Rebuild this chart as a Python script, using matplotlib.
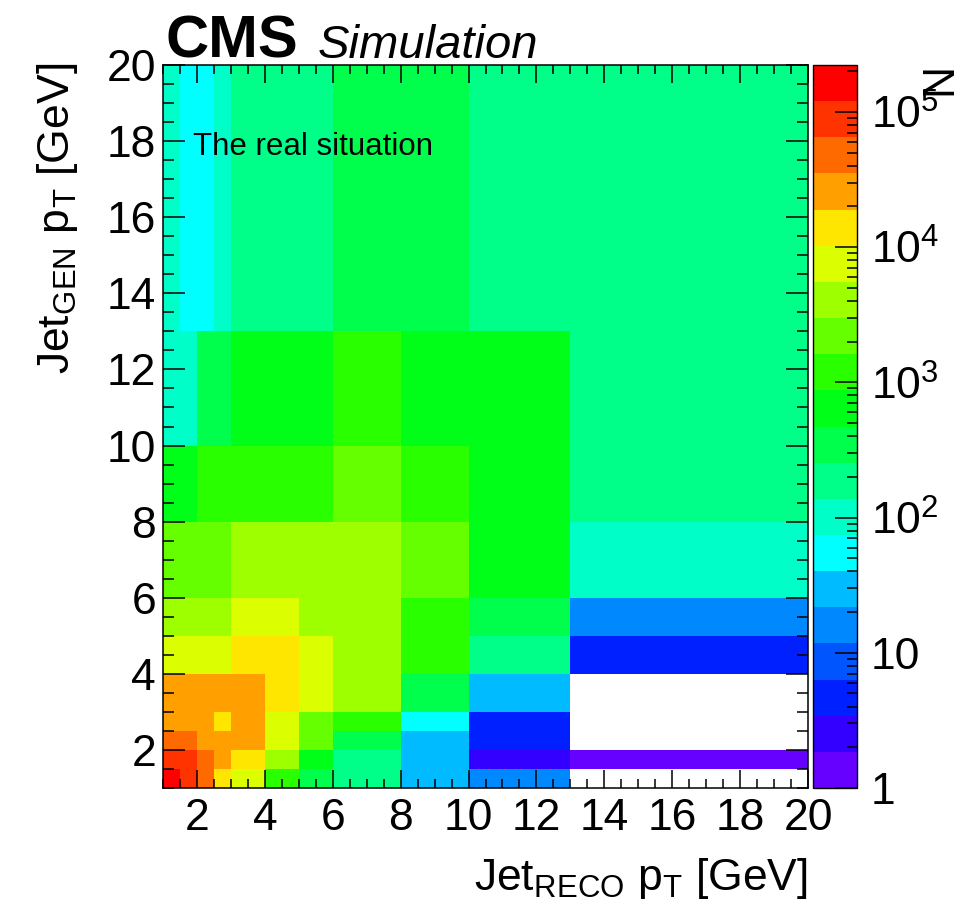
import numpy as np
import matplotlib
matplotlib.use("Agg")
import matplotlib.pyplot as plt
from matplotlib.colors import ListedColormap, LogNorm
from matplotlib.ticker import FixedLocator, MultipleLocator, LogLocator, NullFormatter

plt.rcParams['font.family'] = ['Liberation Sans', 'DejaVu Sans']
plt.rcParams['mathtext.fontset'] = 'custom'
plt.rcParams['mathtext.rm'] = 'Liberation Sans'
plt.rcParams['mathtext.it'] = 'Liberation Sans:italic'
plt.rcParams['mathtext.bf'] = 'Liberation Sans:bold'

# Variable bin edges of the response matrix [GeV]
reco_edges = [1, 1.5, 2, 2.5, 3, 4, 5, 6, 8, 10, 13, 20]
gen_edges = [1, 1.5, 2, 2.5, 3, 4, 5, 6, 8, 10, 13, 20]

# Entries per bin, one list per generator-level row (bottom to top),
# columns follow reco_edges; 0 marks an empty bin
gen_1_15 = [150000, 85000, 45000, 14000, 8000, 1200, 350, 190, 30, 15, 0]
gen_15_2 = [90000, 80000, 48000, 26000, 15000, 4200, 650, 200, 28, 2.5, 1]
gen_2_25 = [50000, 42000, 30000, 27000, 25000, 7000, 2300, 380, 32, 5, 0]
gen_25_3 = [28000, 30000, 26000, 15000, 24000, 7500, 2200, 1100, 55, 4, 0]
gen_3_4 = [24000, 26000, 27000, 25000, 22000, 13000, 8500, 4000, 400, 30, 0]
gen_4_5 = [9000, 8500, 8000, 7800, 12000, 11000, 7000, 3800, 1100, 180, 5]
gen_5_6 = [4500, 4200, 4000, 3900, 6500, 6000, 3600, 3300, 1000, 330, 16]
gen_6_8 = [2500, 2300, 2200, 2100, 3500, 3400, 3200, 3100, 1900, 600, 100]
gen_8_10 = [800, 780, 950, 920, 1300, 1200, 1100, 1800, 1000, 650, 200]
gen_10_13 = [120, 110, 400, 380, 700, 680, 650, 950, 600, 550, 170]
gen_13_20 = [90, 60, 55, 85, 200, 210, 220, 300, 280, 180, 160]

counts = np.array([gen_1_15, gen_15_2, gen_2_25, gen_25_3, gen_3_4, gen_4_5,
                   gen_5_6, gen_6_8, gen_8_10, gen_10_13, gen_13_20], dtype=float)

x_ticks = [2, 4, 6, 8, 10, 12, 14, 16, 18, 20]
y_ticks = [2, 4, 6, 8, 10, 12, 14, 16, 18, 20]
z_ticks = [1, 10, 100, 1e3, 1e4, 1e5]
z_labels = ['1', '10', r'$\mathregular{10^{2}}$', r'$\mathregular{10^{3}}$',
            r'$\mathregular{10^{4}}$', r'$\mathregular{10^{5}}$']
z_min, z_max = 1.0, 2.22e5

# 20-step rainbow palette, violet (low) to red (high)
palette = ['#6600ff', '#3300ff', '#0020ff', '#0055ff', '#0088ff', '#00bbff',
           '#00ffff', '#00ffc8', '#00ff88', '#00ff4c', '#00ff18', '#2aff00',
           '#66ff00', '#9eff00', '#dbff00', '#ffe600', '#ffa000', '#ff6a00',
           '#ff3300', '#ff0000']
cmap = ListedColormap(palette)
cmap.set_bad('white')
norm = LogNorm(vmin=z_min, vmax=z_max)

W, H = 971, 915
fig = plt.figure(figsize=(W / 100, H / 100), dpi=100)
fig.patch.set_facecolor('white')

ax_l, ax_r, ax_t, ax_b = 163, 808, 65, 788
ax = fig.add_axes([ax_l / W, 1 - ax_b / H, (ax_r - ax_l) / W, (ax_b - ax_t) / H])
mesh = ax.pcolormesh(reco_edges, gen_edges, np.ma.masked_less_equal(counts, 0),
                     cmap=cmap, norm=norm, edgecolors='none', antialiased=False)
ax.set_xlim(1, 20)
ax.set_ylim(1, 20)
ax.xaxis.set_major_locator(FixedLocator(x_ticks))
ax.yaxis.set_major_locator(FixedLocator(y_ticks))
ax.xaxis.set_minor_locator(MultipleLocator(0.5))
ax.yaxis.set_minor_locator(MultipleLocator(0.5))
ax.tick_params(which='both', direction='in', top=True, right=True,
               width=1.1, color='black', labelsize=32)
ax.tick_params(axis='x', which='major', length=13, pad=7)
ax.tick_params(axis='x', which='minor', length=6.5)
ax.tick_params(axis='y', which='major', length=16, pad=5)
ax.tick_params(axis='y', which='minor', length=8)
for s in ax.spines.values():
    s.set_linewidth(1.1)

ax.text((193 - ax_l) / (ax_r - ax_l), (ax_b - 147) / (ax_b - ax_t),
        'The real situation', transform=ax.transAxes, fontsize=22.5,
        ha='left', va='center', color='black')

# colour scale
cax = fig.add_axes([813 / W, 1 - ax_b / H, 44 / W, (ax_b - ax_t) / H])
cb = fig.colorbar(mesh, cax=cax)
cb.outline.set_linewidth(1.0)
cax.yaxis.set_ticks_position('right')
cax.yaxis.set_major_locator(FixedLocator(z_ticks))
cax.set_yticklabels(z_labels)
cax.yaxis.set_minor_locator(LogLocator(base=10, subs=np.arange(2, 10)))
cax.yaxis.set_minor_formatter(NullFormatter())
cax.tick_params(which='both', direction='in', labelsize=32, width=1.1)
cax.tick_params(which='major', length=16, pad=10)
cax.tick_params(which='minor', length=7.5)
fig.text(940 / W, 1 - 63 / H, 'N', rotation=90, fontsize=32, ha='center', va='top')

# titles
fig.text(165 / W, 1 - 58 / H, 'CMS', fontsize=43, fontweight='bold', ha='left', va='baseline')
fig.text(318 / W, 1 - 58 / H, 'Simulation', fontsize=34, fontstyle='italic', ha='left', va='baseline')

fig.text(808 / W, 1 - 890 / H, r'$\mathregular{Jet_{RECO}\ p_{T}}$ [GeV]',
         fontsize=32, ha='right', va='baseline')
fig.text(58 / W, 1 - 63 / H, r'$\mathregular{Jet_{GEN}\ p_{T}}$ [GeV]',
         fontsize=32, rotation=90, ha='center', va='top')

fig.savefig('out.png', dpi=100, facecolor='white')
